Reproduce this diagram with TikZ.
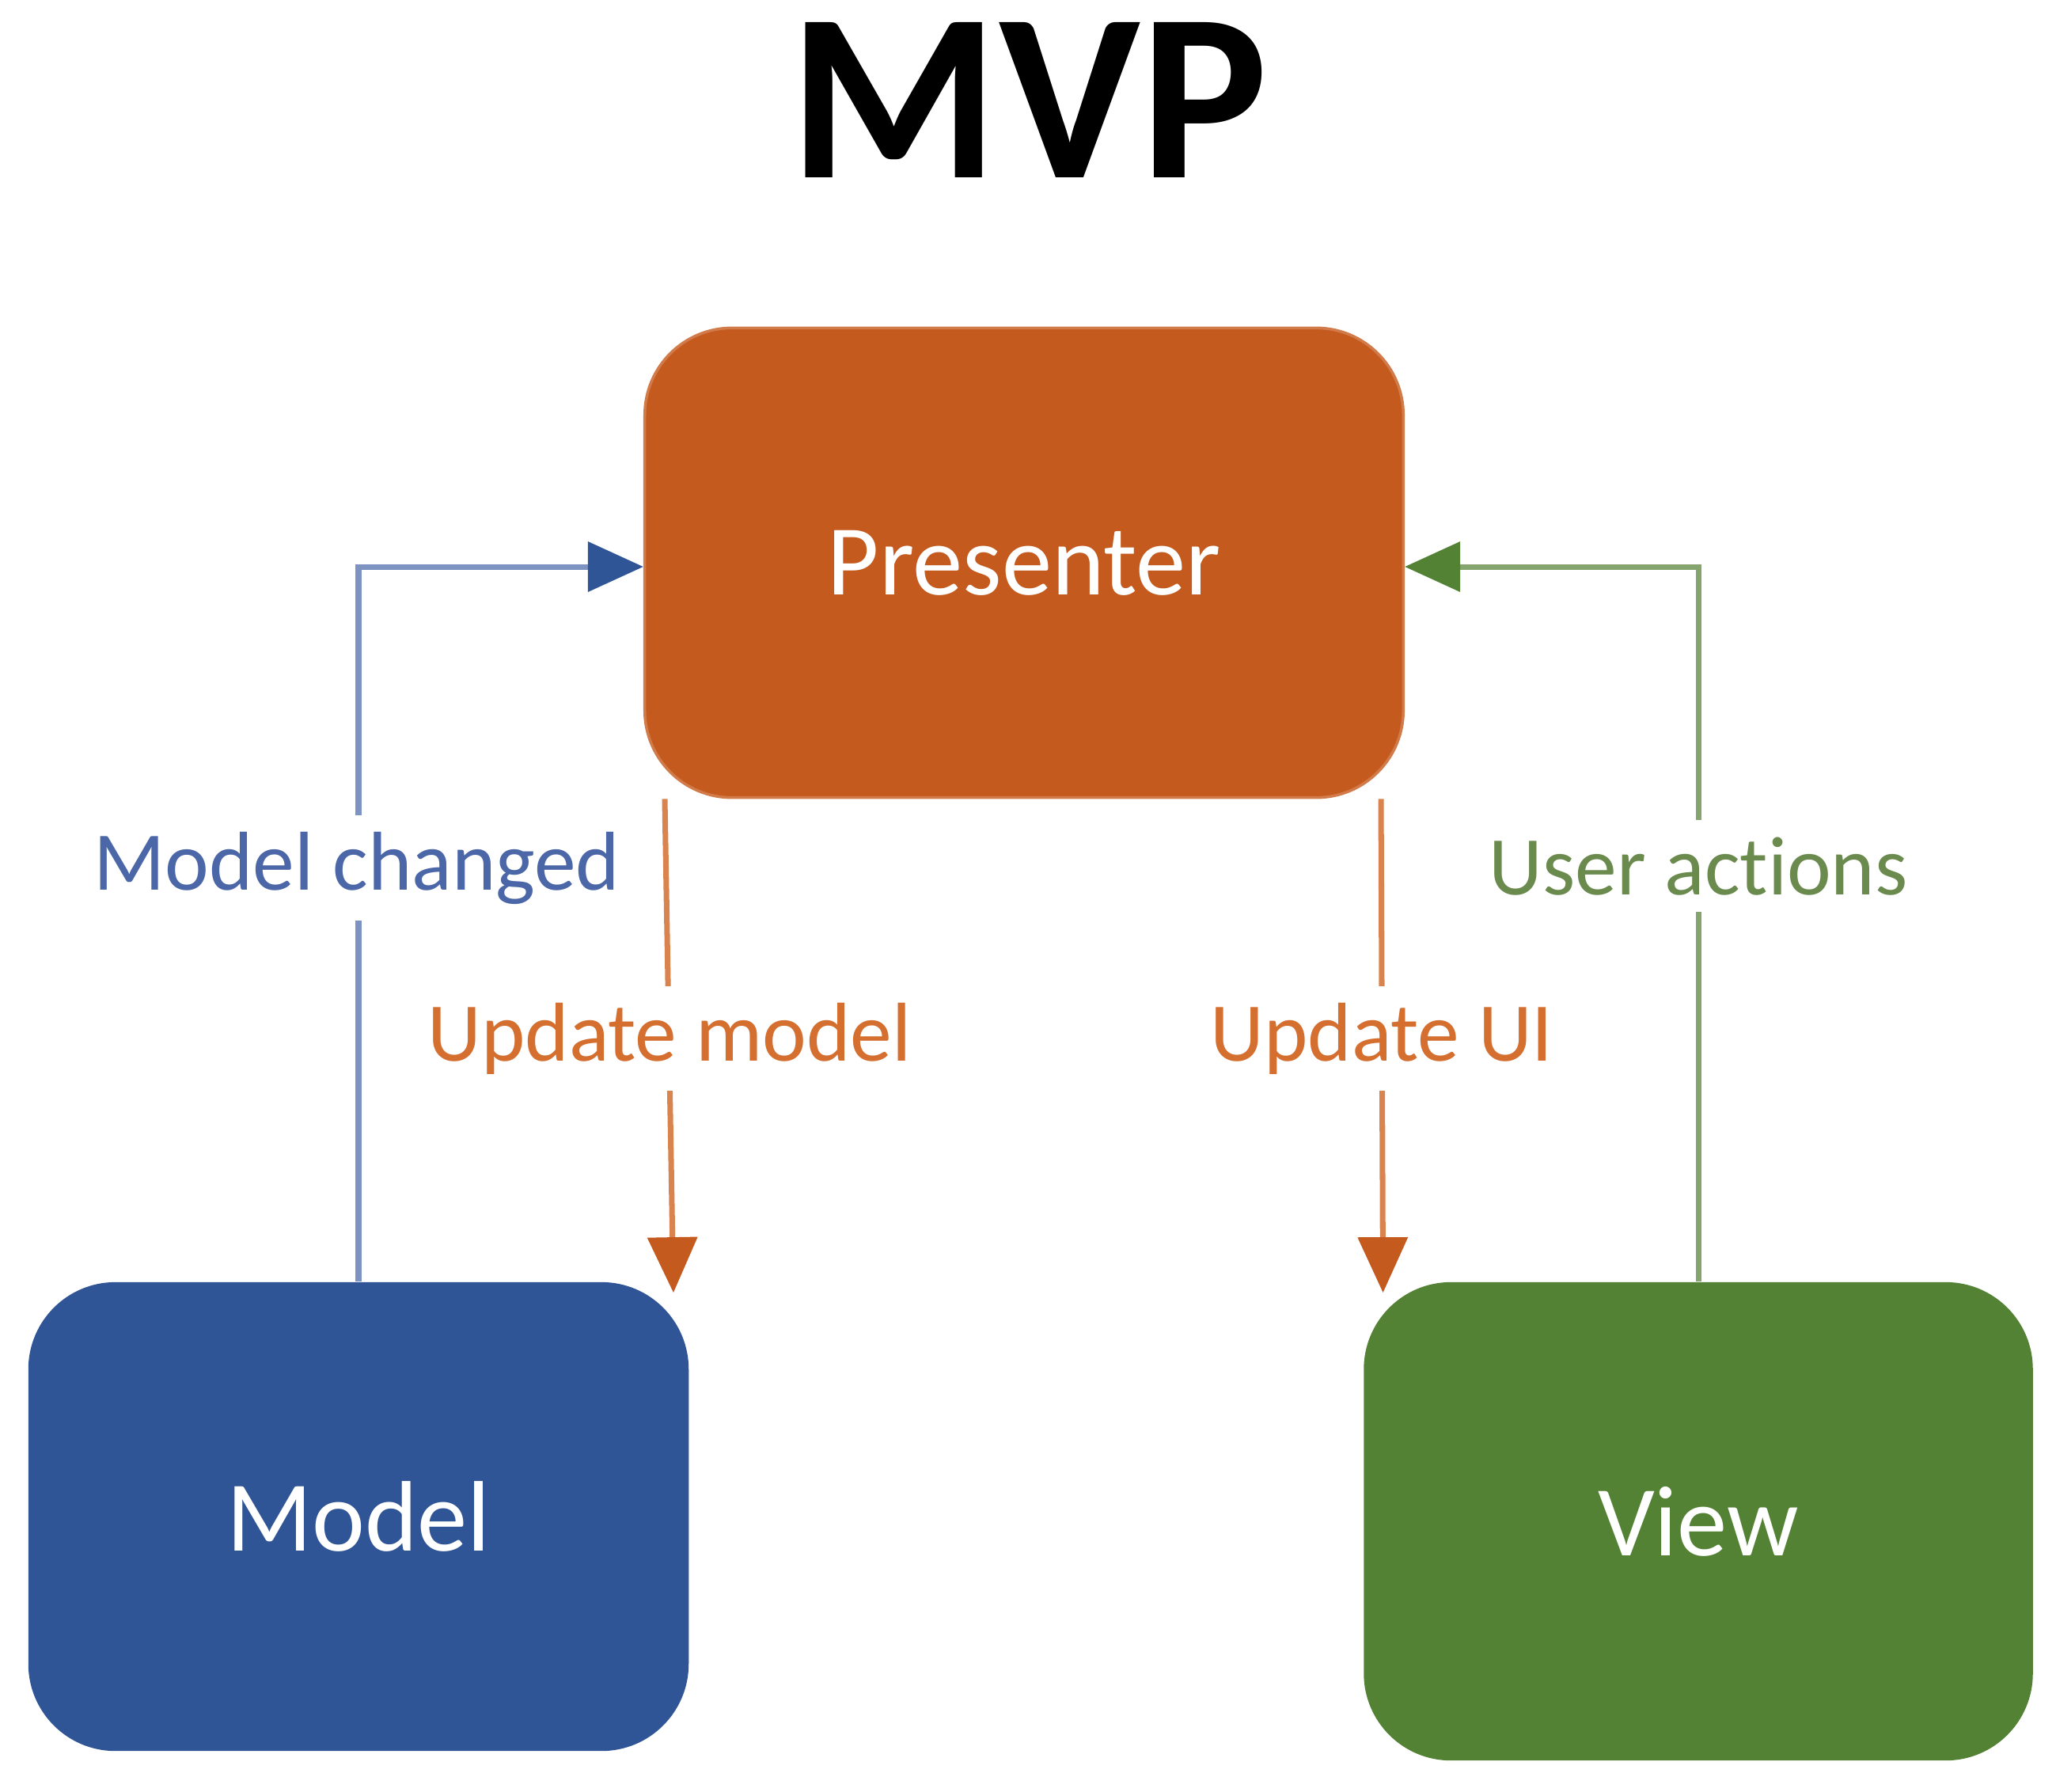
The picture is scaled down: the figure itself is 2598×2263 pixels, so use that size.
\documentclass[tikz,border=0pt]{standalone}
\usepackage{fontspec}
\setmainfont{Carlito}[Ligatures={NoCommon}]
\usetikzlibrary{arrows.meta,calc}
\definecolor{porange}{HTML}{C55A1E}
\definecolor{mblue}{HTML}{2F5597}
\definecolor{vgreen}{HTML}{548235}
\definecolor{bline}{HTML}{7D93C2}
\definecolor{gline}{HTML}{86A56E}
\definecolor{oline}{HTML}{D9844F}
\definecolor{btext}{HTML}{4B67A8}
\definecolor{gtext}{HTML}{6A8A4E}
\definecolor{otext}{HTML}{D46F30}
\begin{document}
\begin{tikzpicture}[x=0.01cm,y=-0.01cm,
  mvpbox/.style={rounded corners=1.1cm, inner sep=0pt, text=white,
    font=\fontsize{36}{42}\selectfont},
  lbl/.style={fill=white, inner sep=6pt, font=\fontsize{30}{36}\selectfont, anchor=base},
  conn/.style={line width=2pt}
]
\useasboundingbox (0,0) rectangle (2598,2263);
\node[font=\bfseries\fontsize{86}{100}\selectfont, anchor=base] (title) at (1300,224) {MVP};
\node[mvpbox, fill=porange, draw=porange!80!white, line width=1pt, minimum width=9.58cm, minimum height=5.93cm] (presenter) at (1294,711) {Presenter};
\node[mvpbox, fill=mblue, minimum width=8.34cm, minimum height=5.92cm] (model) at (453,1916) {Model};
\node[mvpbox, fill=vgreen, minimum width=8.45cm, minimum height=6.04cm] (view) at (2146,1922) {View};
% connectors
\draw[conn, draw=bline, -{Triangle[length=0.7cm,width=0.62cm,color=mblue]}] (model.north) |- ([yshift=-0.05cm]presenter.west);
\draw[conn, draw=gline, -{Triangle[length=0.7cm,width=0.62cm,color=vgreen]}] (view.north) |- ([yshift=-0.05cm]presenter.east);
\draw[conn, draw=oline, -{Triangle[length=0.7cm,width=0.62cm,color=porange]}] ([xshift=0.27cm]presenter.south west) -- ([xshift=-0.2cm,yshift=-0.14cm]model.north east);
\draw[conn, draw=oline, -{Triangle[length=0.7cm,width=0.62cm,color=porange]}] ([xshift=-0.3cm]presenter.south east) -- ([xshift=0.25cm,yshift=-0.14cm]view.north west);
% labels
\node[lbl, text=btext] (lmc) at (451,1124) {Model changed};
\node[lbl, text=otext] (lum) at (846,1340) {Update model};
\node[lbl, text=otext] (lui) at (1746,1340) {Update UI};
\node[lbl, text=gtext] (lua) at (2146,1130) {User actions};
\end{tikzpicture}
\end{document}
